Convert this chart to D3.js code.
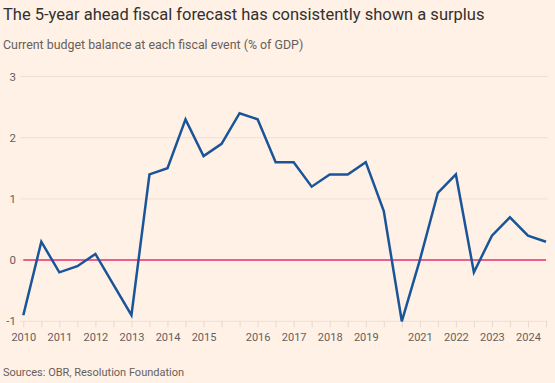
<!DOCTYPE html>
<html>
<head>
    <script src="https://d3js.org/d3.v7.min.js"></script>
    <style>
        body { margin: 0; background: #FFF1E5; }
        svg { display: block; font-family: Roboto, "Noto Sans", sans-serif; }
    </style>
</head>
<body>
    <script>
        // fiscal events (OBR forecasts), evenly spaced on the x axis
        const events = [
            "Jun 2010", "Nov 2010", "Mar 2011", "Nov 2011", "Mar 2012", "Dec 2012",
            "Mar 2013", "Dec 2013", "Mar 2014", "Dec 2014", "Mar 2015", "Jul 2015",
            "Nov 2015", "Mar 2016", "Nov 2016", "Mar 2017", "Nov 2017", "Mar 2018",
            "Oct 2018", "Mar 2019", "Mar 2020", "Nov 2020", "Mar 2021", "Oct 2021",
            "Mar 2022", "Nov 2022", "Mar 2023", "Nov 2023", "Mar 2024", "Oct 2024"
        ];
        // current budget balance, 5 years ahead (% of GDP)
        const balance = [
            -0.9, 0.3, -0.2, -0.1, 0.1, -0.4,
            -0.9, 1.4, 1.5, 2.3, 1.7, 1.9,
            2.4, 2.3, 1.6, 1.6, 1.2, 1.4,
            1.4, 1.6, 0.8, -1.0, 0.0, 1.1,
            1.4, -0.2, 0.4, 0.7, 0.4, 0.3
        ];
        // events that carry a year label
        const labelledEvents = [
            "Jun 2010", "Mar 2011", "Mar 2012", "Mar 2013", "Mar 2014", "Mar 2015",
            "Mar 2016", "Mar 2017", "Mar 2018", "Mar 2019", "Mar 2021", "Mar 2022",
            "Mar 2023", "Mar 2024"
        ];
        const yTicks = [-1, 0, 1, 2, 3];

        const title = "The 5-year ahead fiscal forecast has consistently shown a surplus";
        const subtitle = "Current budget balance at each fiscal event (% of GDP)";
        const source = "Sources: OBR, Resolution Foundation";

        const width = 555, height = 383;
        const margin = { top: 76, right: 9, bottom: 62, left: 23 };

        const svg = d3.select("body").append("svg")
            .attr("width", width)
            .attr("height", height);

        svg.append("rect").attr("width", width).attr("height", height).attr("fill", "#FFF1E5");

        svg.append("text")
            .attr("x", 3).attr("y", 19.5)
            .attr("font-size", 16.5)
            .attr("fill", "#33302E")
            .text(title);

        svg.append("text")
            .attr("x", 3).attr("y", 48.5)
            .attr("font-size", 12.4)
            .attr("fill", "#66605C")
            .text(subtitle);

        svg.append("text")
            .attr("x", 3).attr("y", 375.5)
            .attr("font-size", 11)
            .attr("fill", "#66605C")
            .text(source);

        const x = d3.scalePoint()
            .domain(events)
            .range([margin.left + 0.3, width - margin.right]);

        const y = d3.scaleLinear()
            .domain([-1, 3])
            .range([321.3, 76.5]);

        // horizontal grid
        svg.append("g")
            .selectAll("line")
            .data(yTicks)
            .join("line")
            .attr("x1", 20).attr("x2", 548)
            .attr("y1", d => y(d)).attr("y2", d => y(d))
            .attr("stroke", "#EDE0D5")
            .attr("stroke-width", 1);

        // y labels, centred on the grid lines
        svg.append("g")
            .selectAll("text")
            .data(yTicks)
            .join("text")
            .attr("x", 16)
            .attr("y", d => y(d))
            .attr("dy", "0.36em")
            .attr("text-anchor", "end")
            .attr("font-size", 11.5)
            .attr("fill", "#66605C")
            .text(d => d);

        // x axis: tick at every event, labels on a subset
        const xAxis = d3.axisBottom(x)
            .tickSize(6)
            .tickSizeOuter(0)
            .tickFormat(d => labelledEvents.includes(d) ? d.slice(-4) : "");

        const gx = svg.append("g")
            .attr("transform", `translate(0,${y(-1)})`)
            .call(xAxis);
        gx.select(".domain").remove();
        gx.selectAll(".tick line").attr("stroke", "#E6D9CE");
        gx.selectAll(".tick text")
            .attr("y", 12)
            .attr("font-size", 11)
            .attr("font-family", "Roboto, sans-serif")
            .attr("fill", "#66605C");

        // zero line
        svg.append("line")
            .attr("x1", x(events[0])).attr("x2", x(events[events.length - 1]))
            .attr("y1", y(0)).attr("y2", y(0))
            .attr("stroke", "#EB5E8D")
            .attr("stroke-width", 2);

        const line = d3.line()
            .x((d, i) => x(events[i]))
            .y(d => y(d));

        svg.append("path")
            .datum(balance)
            .attr("d", line)
            .attr("fill", "none")
            .attr("stroke", "#1A5499")
            .attr("stroke-width", 2.5)
            .attr("stroke-linejoin", "miter");
    </script>
</body>
</html>
